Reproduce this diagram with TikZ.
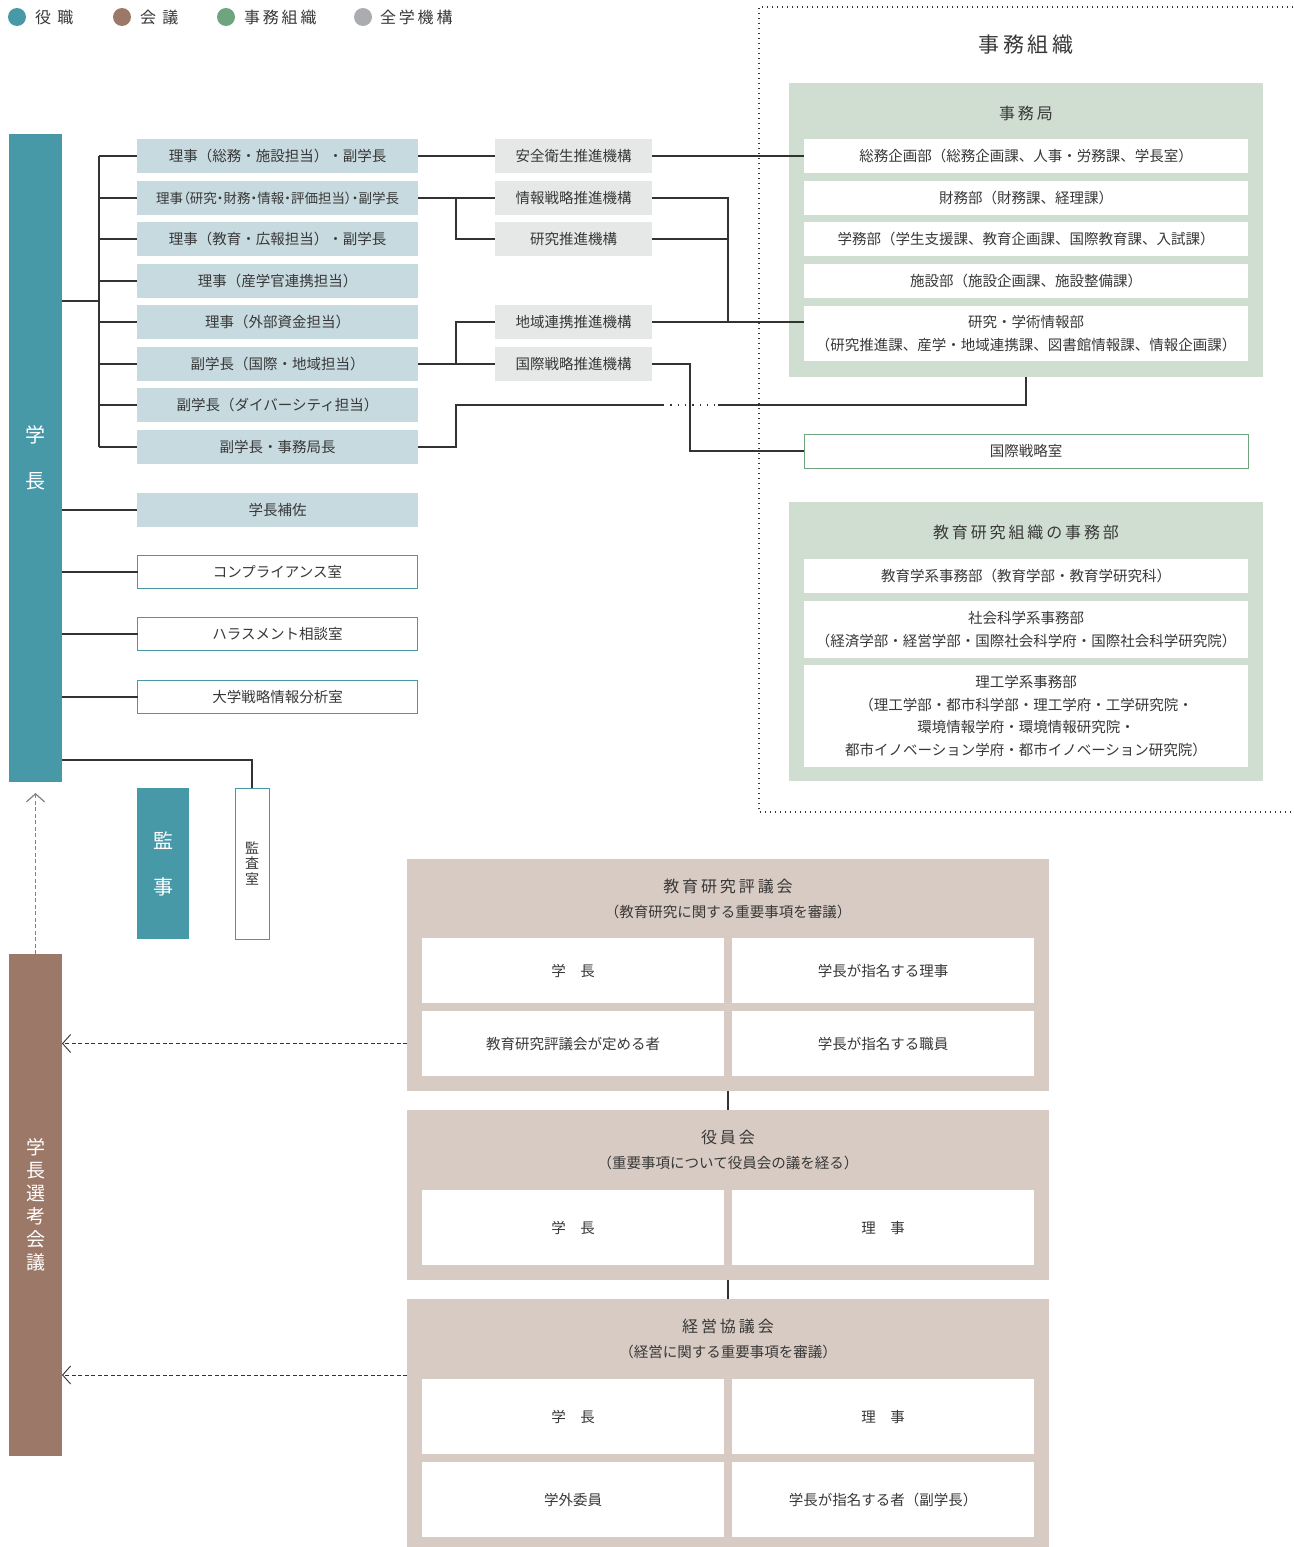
\documentclass[tikz,border=0pt]{standalone}
\usepackage{fontspec}
\setmainfont{Noto Sans CJK JP}
\newfontfamily\jpspaced[LetterSpace=18]{Noto Sans CJK JP}
\newfontfamily\jpnarrow[RawFeature=+palt]{Noto Sans CJK JP}
\usetikzlibrary{arrows.meta}
\definecolor{cTeal}{HTML}{4899A8}
\definecolor{cBrown}{HTML}{9C7868}
\definecolor{cGreen}{HTML}{6EA47E}
\definecolor{cGrey}{HTML}{ABACAF}
\definecolor{cBlue}{HTML}{C7DAE0}
\definecolor{cMist}{HTML}{E6E7E7}
\definecolor{cSage}{HTML}{D0DED1}
\definecolor{cSand}{HTML}{D8CBC3}
\definecolor{cText}{HTML}{383838}
\definecolor{cLine}{HTML}{333333}
\begin{document}
\begin{tikzpicture}[x=1pt,y=-1pt,
  every node/.style={inner sep=0pt, outer sep=0pt, text=cText},
  body/.style={font=\fontsize{14.5}{23}\selectfont, align=center},
  dirbox/.style={body, fill=cBlue, minimum width=281pt, minimum height=34pt},
  framebox/.style={body, fill=white, draw=cTeal, line width=1pt, minimum width=280pt, minimum height=33pt},
  orgbox/.style={body, fill=cMist, minimum width=157pt, minimum height=34pt},
  secbox/.style={body, fill=white, minimum width=444pt},
  panel/.style={fill=cSage, minimum width=474pt},
  council/.style={fill=cSand, minimum width=642pt},
  cell/.style={body, fill=white, minimum width=302pt},
  title/.style={font=\jpspaced\fontsize{16}{19}\selectfont},
  legtext/.style={anchor=west, font=\jpspaced\fontsize{16}{19}\selectfont},
  legdot/.style={circle, minimum size=18pt},
  bar/.style={text=white, align=center},
  conn/.style={draw=cLine, line width=1.1pt},
  dots/.style={draw=cLine, line width=1.3pt, dash pattern=on 1.3pt off 3.7pt},
  sparsedots/.style={draw=cLine, line width=1.3pt, dash pattern=on 1.3pt off 6pt},
  dasharrow/.style={draw=cLine, line width=0.9pt, dash pattern=on 4pt off 2.5pt,
    -{Straight Barb[length=8pt,width=18pt]}}
]
\useasboundingbox (0,0) rectangle (1293,1547);

% legend
\node[legdot, fill=cTeal] (lgA) at (17,17) {};
\node[legtext] (lgAt) at (35,17) {役 職};
\node[legdot, fill=cBrown] (lgB) at (122,17) {};
\node[legtext] (lgBt) at (140,17) {会 議};
\node[legdot, fill=cGreen] (lgC) at (226,17) {};
\node[legtext] (lgCt) at (244,17) {事務組織};
\node[legdot, fill=cGrey] (lgD) at (363,17) {};
\node[legtext] (lgDt) at (380,17) {全学機構};

% president and officers
\node[bar, fill=cTeal, minimum width=53pt, minimum height=648pt,
  font=\fontsize{20}{46}\selectfont] (pres) at (35.5,458) {学\\長};
\node[dirbox] (d1) at (277.5,156) {理事（総務・施設担当）・副学長};
\node[dirbox, font=\jpnarrow\fontsize{13.5}{16}\selectfont] (d2) at (277.5,198) {理事（研究・財務・情報・評価担当）・副学長};
\node[dirbox] (d3) at (277.5,239) {理事（教育・広報担当）・副学長};
\node[dirbox] (d4) at (277.5,281) {理事（産学官連携担当）};
\node[dirbox] (d5) at (277.5,322) {理事（外部資金担当）};
\node[dirbox] (d6) at (277.5,364) {副学長（国際・地域担当）};
\node[dirbox] (d7) at (277.5,405) {副学長（ダイバーシティ担当）};
\node[dirbox] (d8) at (277.5,447) {副学長・事務局長};
\node[dirbox] (asst) at (277.5,510) {学長補佐};
\node[framebox] (comp) at (277.5,572) {コンプライアンス室};
\node[framebox] (hara) at (277.5,634) {ハラスメント相談室};
\node[framebox] (anal) at (277.5,697) {大学戦略情報分析室};

% auditors
\node[bar, fill=cTeal, minimum width=52pt, minimum height=151pt,
  font=\fontsize{20}{46}\selectfont] (kanji) at (163,863.5) {監\\事};
\node[framebox, minimum width=34pt, minimum height=151pt,
  font=\fontsize{14}{15.5}\selectfont] (audit) at (252,863.5) {監\\査\\室};

% selection committee
\node[bar, fill=cBrown, minimum width=53pt, minimum height=502pt,
  font=\fontsize{19}{23}\selectfont] (sel) at (35.5,1205) {学\\長\\選\\考\\会\\議};

% university-wide organisations
\node[orgbox] (m1) at (573.5,156) {安全衛生推進機構};
\node[orgbox] (m2) at (573.5,198) {情報戦略推進機構};
\node[orgbox] (m3) at (573.5,239) {研究推進機構};
\node[orgbox] (m4) at (573.5,322) {地域連携推進機構};
\node[orgbox] (m5) at (573.5,364) {国際戦略推進機構};

% administrative organisation
\node[font=\jpspaced\fontsize{21}{25}\selectfont] (adm) at (1026,45) {事務組織};
\node[panel, minimum height=294pt] (jim) at (1026,230) {};
\node[title] (jimT) at (1026,113) {事務局};
\node[secbox, minimum height=34pt] (s1) at (1026,156) {総務企画部（総務企画課、人事・労務課、学長室）};
\node[secbox, minimum height=34pt] (s2) at (1026,198) {財務部（財務課、経理課）};
\node[secbox, minimum height=34pt] (s3) at (1026,239) {学務部（学生支援課、教育企画課、国際教育課、入試課）};
\node[secbox, minimum height=34pt] (s4) at (1026,281) {施設部（施設企画課、施設整備課）};
\node[secbox, minimum height=55pt] (s5) at (1026,333.5) {研究・学術情報部\\（研究推進課、産学・地域連携課、図書館情報課、情報企画課）};
\node[secbox, minimum height=34pt, draw=cGreen, line width=1pt] (intl) at (1026,451) {国際戦略室};
\node[panel, minimum height=279pt] (edu) at (1026,641.5) {};
\node[title] (eduT) at (1026,532) {教育研究組織の事務部};
\node[secbox, minimum height=34pt] (e1) at (1026,576) {教育学系事務部（教育学部・教育学研究科）};
\node[secbox, minimum height=57pt] (e2) at (1026,629.5) {社会科学系事務部\\（経済学部・経営学部・国際社会科学府・国際社会科学研究院）};
\node[secbox, minimum height=102pt, font=\fontsize{14.5}{22.7}\selectfont] (e3) at (1026,716) {理工学系事務部\\（理工学部・都市科学部・理工学府・工学研究院・\\環境情報学府・環境情報研究院・\\都市イノベーション学府・都市イノベーション研究院）};

% councils
\node[council, minimum height=232pt] (c1) at (728,975) {};
\node[title] (c1T) at (728,886) {教育研究評議会};
\node[body] (c1S) at (728,912) {（教育研究に関する重要事項を審議）};
\node[cell, minimum height=65pt] (c1a) at (573,970.5) {学　長};
\node[cell, minimum height=65pt] (c1b) at (883,970.5) {学長が指名する理事};
\node[cell, minimum height=65pt] (c1c) at (573,1043.5) {教育研究評議会が定める者};
\node[cell, minimum height=65pt] (c1d) at (883,1043.5) {学長が指名する職員};

\node[council, minimum height=170pt] (c2) at (728,1195) {};
\node[title] (c2T) at (728,1137) {役員会};
\node[body] (c2S) at (728,1163) {（重要事項について役員会の議を経る）};
\node[cell, minimum height=75pt] (c2a) at (573,1227.5) {学　長};
\node[cell, minimum height=75pt] (c2b) at (883,1227.5) {理　事};

\node[council, minimum height=248pt] (c3) at (728,1423) {};
\node[title] (c3T) at (728,1326) {経営協議会};
\node[body] (c3S) at (728,1352) {（経営に関する重要事項を審議）};
\node[cell, minimum height=75pt] (c3a) at (573,1416.5) {学　長};
\node[cell, minimum height=75pt] (c3b) at (883,1416.5) {理　事};
\node[cell, minimum height=75pt] (c3c) at (573,1499.5) {学外委員};
\node[cell, minimum height=75pt] (c3d) at (883,1499.5) {学長が指名する者（副学長）};

% dotted frame around the administrative organisation
\coordinate (bTR) at (1293,7);
\coordinate (bTL) at (759,7);
\coordinate (bBL) at (759,812);
\coordinate (bBR) at (1293,812);
\draw[dots] (bTR) -- (bTL) -- (bBL) -- (bBR);

% president to officers
\coordinate (busX) at (99,301);
\draw[conn] (pres.east |- busX) -- (busX);
\draw[conn] (busX |- d1.west) -- (busX |- d8.west);
\foreach \n in {d1,d2,d3,d4,d5,d6,d7,d8}
  \draw[conn] (busX |- \n.west) -- (\n.west);
\foreach \n in {asst,comp,hara,anal}
  \draw[conn] (pres.east |- \n.west) -- (\n.west);
\coordinate (audJ) at (252,760);
\draw[conn] (pres.east |- audJ) -- (audJ) -- (audit.north);

% officers to organisations
\coordinate (jA) at (456,0);
\coordinate (jB) at (728,0);
\coordinate (jC) at (690,0);
\draw[conn] (d1.east) -- (m1.west);
\draw[conn] (m1.east) -- (s1.west);
\draw[conn] (d2.east) -- (m2.west);
\draw[conn] (jA |- m2.west) -- (jA |- m3.west) -- (m3.west);
\draw[conn] (d6.east) -- (m5.west);
\draw[conn] (jA |- m5.west) -- (jA |- m4.west) -- (m4.west);
\draw[conn] (m2.east) -- (jB |- m2.east) -- (jB |- m4.east);
\draw[conn] (m3.east) -- (jB |- m3.east);
\draw[conn] (m4.east) -- (m4.east -| s5.west);
\draw[conn] (m5.east) -- (jC |- m5.east) |- (intl.west);

% secretary general to the secretariat
\coordinate (gapA) at (663,405);
\coordinate (gapB) at (718,405);
\draw[conn] (d8.east) -- (jA |- d8.east) |- (gapA);
\draw[sparsedots] (gapA) -- (gapB);
\draw[conn] (gapB) -| (jim.south);

% council links
\draw[draw=cLine, line width=2.2pt] (c1.south) -- (c2.north);
\draw[draw=cLine, line width=2.2pt] (c2.south) -- (c3.north);

% dashed relations to the selection committee
\coordinate (upTip) at (35.5,793);
\draw[dasharrow, draw=gray, line width=1.2pt] (sel.north) -- (upTip);
\draw[dasharrow] (c1.west |- c1c.center) -- (sel.east |- c1c.center);
\coordinate (c3arr) at (407,1375);
\draw[dasharrow] (c3arr) -- (sel.east |- c3arr);
\end{tikzpicture}
\end{document}
